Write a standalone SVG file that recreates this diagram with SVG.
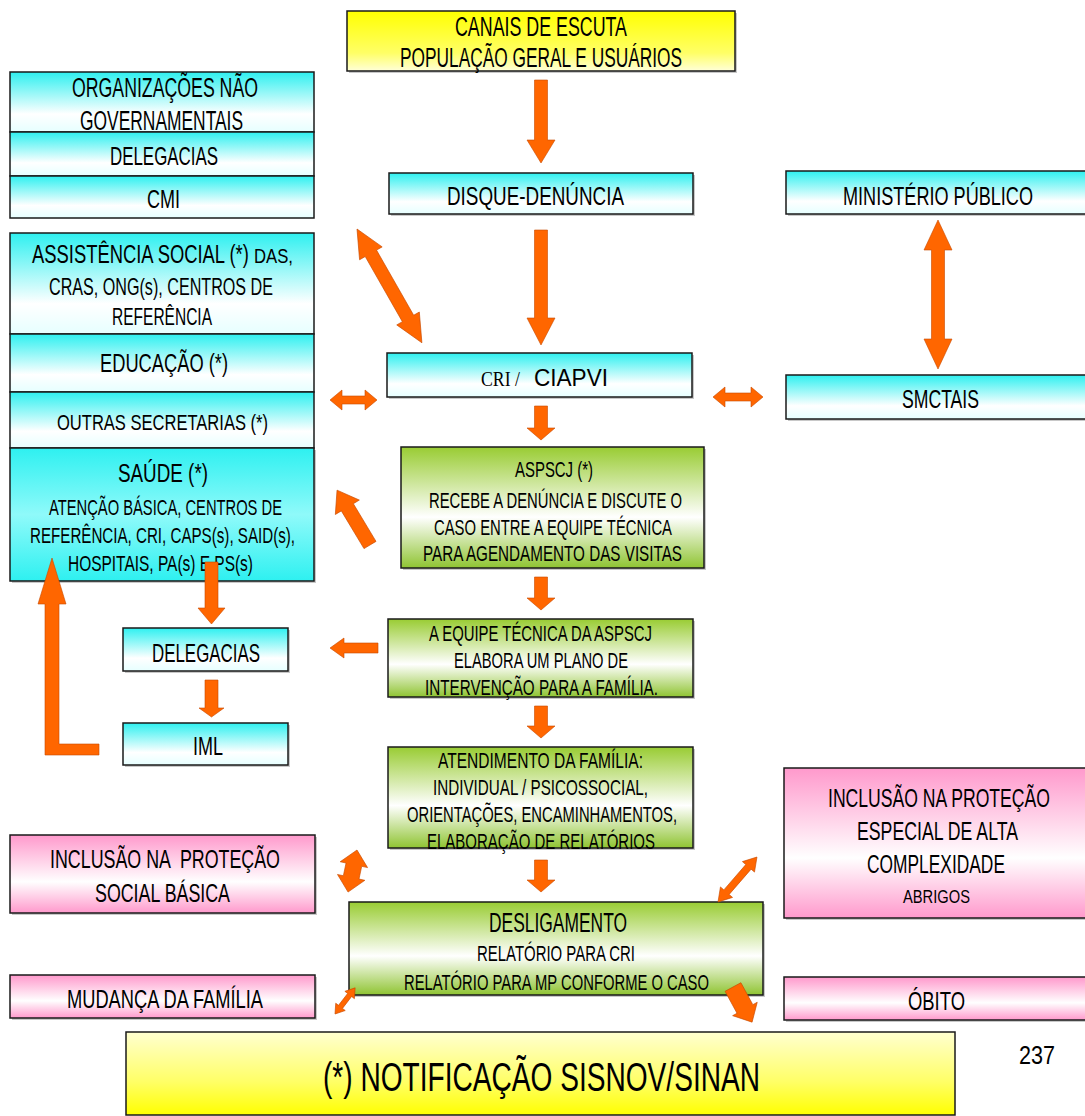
<svg xmlns="http://www.w3.org/2000/svg" width="1085" height="1116" viewBox="0 0 1085 1116">
  <defs>
    <linearGradient id="gYellowTop" x1="0" y1="0" x2="0" y2="1">
      <stop offset="0" stop-color="#ffff00"/>
      <stop offset="0.7" stop-color="#ffff66"/>
      <stop offset="1" stop-color="#ffffd8"/>
    </linearGradient>
    <linearGradient id="gYellowBottom" x1="0" y1="0" x2="0" y2="1">
      <stop offset="0" stop-color="#ffffd0"/>
      <stop offset="0.6" stop-color="#ffff66"/>
      <stop offset="1" stop-color="#ffff00"/>
    </linearGradient>
    <linearGradient id="gCyan" x1="0" y1="0" x2="0" y2="1">
      <stop offset="0" stop-color="#2ef0f0"/>
      <stop offset="0.7" stop-color="#ffffff"/>
      <stop offset="1" stop-color="#e6ffff"/>
    </linearGradient>
    <linearGradient id="gCyanFull" x1="0" y1="0" x2="0" y2="1">
      <stop offset="0" stop-color="#2ef0f0"/>
      <stop offset="0.5" stop-color="#8ffafa"/>
      <stop offset="1" stop-color="#2ef0f0"/>
    </linearGradient>
    <linearGradient id="gGreen" x1="0" y1="0" x2="0" y2="1">
      <stop offset="0" stop-color="#99cc33"/>
      <stop offset="0.58" stop-color="#ffffff"/>
      <stop offset="1" stop-color="#8fc432"/>
    </linearGradient>
    <linearGradient id="gPink" x1="0" y1="0" x2="0" y2="1">
      <stop offset="0" stop-color="#ff99cc"/>
      <stop offset="0.6" stop-color="#ffffff"/>
      <stop offset="1" stop-color="#ff99cc"/>
    </linearGradient>
  </defs>
  <style>
    .box { stroke: #1a1a1a; stroke-width: 1.5; }
    .shadow { fill: #9a9a9a; opacity: 0.55; }
    .cy { fill: url(#gCyan); }
    .gr { fill: url(#gGreen); }
    .pk { fill: url(#gPink); }
    text { font-family: "Liberation Sans", Arial, sans-serif; fill: #000; white-space: pre; }
    .serif { font-family: "Liberation Serif", "Times New Roman", serif; }
    .arr { fill: #ff6600; stroke: #c84a00; stroke-width: 0.6; }
  </style>

  <!-- top channel box -->
  <g id="canais">
    <rect x="349" y="13" width="388" height="60" class="shadow"/>
    <rect x="347" y="11" width="388" height="60" fill="url(#gYellowTop)" class="box"/>
    <text x="455" y="36" font-size="27" textLength="172" lengthAdjust="spacingAndGlyphs">CANAIS DE ESCUTA</text>
    <text x="400" y="67" font-size="27" textLength="282" lengthAdjust="spacingAndGlyphs">POPULAÇÃO GERAL E USUÁRIOS</text>
  </g>

  <!-- left column: partner groups -->
  <g id="ong">
    <rect x="10" y="72" width="304" height="60" class="cy box"/>
    <text x="72" y="97" font-size="27" textLength="186" lengthAdjust="spacingAndGlyphs">ORGANIZAÇÕES NÃO</text>
    <text x="80" y="130" font-size="27" textLength="163" lengthAdjust="spacingAndGlyphs">GOVERNAMENTAIS</text>
  </g>
  <g id="delegacias-top">
    <rect x="10" y="132" width="304" height="44" class="cy box"/>
    <text x="110" y="165" font-size="26" textLength="108" lengthAdjust="spacingAndGlyphs">DELEGACIAS</text>
  </g>
  <g id="cmi">
    <rect x="10" y="176" width="304" height="42" class="cy box"/>
    <text x="147" y="208" font-size="26" textLength="33" lengthAdjust="spacingAndGlyphs">CMI</text>
  </g>

  <g id="assistencia">
    <rect x="10" y="233" width="304" height="101" class="cy box"/>
    <text x="32" y="263" font-size="25"><tspan textLength="222" lengthAdjust="spacingAndGlyphs">ASSISTÊNCIA SOCIAL (*) </tspan><tspan font-size="20" textLength="39" lengthAdjust="spacingAndGlyphs">DAS,</tspan></text>
    <text x="49" y="295" font-size="24" textLength="224" lengthAdjust="spacingAndGlyphs">CRAS, ONG(s), CENTROS DE</text>
    <text x="112" y="325" font-size="24" textLength="100" lengthAdjust="spacingAndGlyphs">REFERÊNCIA</text>
  </g>
  <g id="educacao">
    <rect x="10" y="334" width="304" height="58" class="cy box"/>
    <text x="100" y="372" font-size="26" textLength="128" lengthAdjust="spacingAndGlyphs">EDUCAÇÃO (*)</text>
  </g>
  <g id="outras">
    <rect x="10" y="392" width="304" height="56" class="cy box"/>
    <text x="57" y="430" font-size="22" textLength="211" lengthAdjust="spacingAndGlyphs">OUTRAS SECRETARIAS (*)</text>
  </g>
  <g id="saude">
    <rect x="12" y="450" width="304" height="133" class="shadow"/>
    <rect x="10" y="448" width="304" height="133" fill="url(#gCyanFull)" class="box"/>
    <text x="118" y="482" font-size="25" textLength="90" lengthAdjust="spacingAndGlyphs">SAÚDE (*)</text>
    <text x="49" y="515" font-size="22" textLength="233" lengthAdjust="spacingAndGlyphs">ATENÇÃO BÁSICA, CENTROS DE</text>
    <text x="30" y="543" font-size="22" textLength="265" lengthAdjust="spacingAndGlyphs">REFERÊNCIA, CRI, CAPS(s), SAID(s),</text>
    <text x="68" y="571" font-size="22" textLength="185" lengthAdjust="spacingAndGlyphs">HOSPITAIS, PA(s) E PS(s)</text>
  </g>

  <g id="delegacias">
    <rect x="125" y="630" width="165" height="43" class="shadow"/>
    <rect x="123" y="628" width="165" height="43" class="cy box"/>
    <text x="152" y="662" font-size="25" textLength="108" lengthAdjust="spacingAndGlyphs">DELEGACIAS</text>
  </g>
  <g id="iml">
    <rect x="125" y="725" width="165" height="42" class="shadow"/>
    <rect x="123" y="723" width="165" height="42" class="cy box"/>
    <text x="193" y="755" font-size="25" textLength="30" lengthAdjust="spacingAndGlyphs">IML</text>
  </g>

  <!-- central flow -->
  <g id="disque">
    <rect x="391" y="175" width="304" height="41" class="shadow"/>
    <rect x="389" y="173" width="304" height="41" class="cy box"/>
    <text x="447" y="205" font-size="25" textLength="177" lengthAdjust="spacingAndGlyphs">DISQUE-DENÚNCIA</text>
  </g>
  <g id="cri">
    <rect x="389" y="355" width="305" height="44" class="shadow"/>
    <rect x="387" y="353" width="305" height="44" class="cy box"/>
    <text x="481" y="386" font-size="22" class="serif" textLength="39" lengthAdjust="spacingAndGlyphs">CRI /</text>
    <text x="534" y="386" font-size="24" textLength="74" lengthAdjust="spacingAndGlyphs">CIAPVI</text>
  </g>
  <g id="aspscj">
    <rect x="403" y="449" width="303" height="121" class="shadow"/>
    <rect x="401" y="447" width="303" height="121" class="gr box"/>
    <text x="515" y="477" font-size="22.5" textLength="78" lengthAdjust="spacingAndGlyphs">ASPSCJ (*)</text>
    <text x="429" y="508" font-size="22.5" textLength="253" lengthAdjust="spacingAndGlyphs">RECEBE A DENÚNCIA E DISCUTE O</text>
    <text x="434" y="535" font-size="22.5" textLength="238" lengthAdjust="spacingAndGlyphs">CASO ENTRE A EQUIPE TÉCNICA</text>
    <text x="423" y="561" font-size="22.5" textLength="259" lengthAdjust="spacingAndGlyphs">PARA AGENDAMENTO DAS VISITAS</text>
  </g>
  <g id="plano">
    <rect x="390" y="621" width="305" height="78" class="shadow"/>
    <rect x="388" y="619" width="305" height="78" class="gr box"/>
    <text x="429" y="641" font-size="22.5" textLength="223" lengthAdjust="spacingAndGlyphs">A EQUIPE TÉCNICA DA ASPSCJ</text>
    <text x="454" y="668" font-size="22.5" textLength="174" lengthAdjust="spacingAndGlyphs">ELABORA UM PLANO DE</text>
    <text x="425" y="695" font-size="22.5" textLength="233" lengthAdjust="spacingAndGlyphs">INTERVENÇÃO PARA A FAMÍLIA.</text>
  </g>
  <g id="atendimento">
    <rect x="390" y="749" width="305" height="101" class="shadow"/>
    <rect x="388" y="747" width="305" height="101" class="gr box"/>
    <text x="438" y="768" font-size="22.5" textLength="205" lengthAdjust="spacingAndGlyphs">ATENDIMENTO DA FAMÍLIA:</text>
    <text x="433" y="795" font-size="22.5" textLength="215" lengthAdjust="spacingAndGlyphs">INDIVIDUAL / PSICOSSOCIAL,</text>
    <text x="407" y="822" font-size="22.5" textLength="270" lengthAdjust="spacingAndGlyphs">ORIENTAÇÕES, ENCAMINHAMENTOS,</text>
    <text x="427" y="849" font-size="22.5" textLength="228" lengthAdjust="spacingAndGlyphs">ELABORAÇÃO DE RELATÓRIOS</text>
  </g>
  <g id="desligamento">
    <rect x="351" y="904" width="414" height="93" class="shadow"/>
    <rect x="349" y="902" width="414" height="93" class="gr box"/>
    <text x="489" y="932" font-size="27" textLength="138" lengthAdjust="spacingAndGlyphs">DESLIGAMENTO</text>
    <text x="477" y="961" font-size="22.5" textLength="158" lengthAdjust="spacingAndGlyphs">RELATÓRIO PARA CRI</text>
    <text x="404" y="990" font-size="22.5" textLength="305" lengthAdjust="spacingAndGlyphs">RELATÓRIO PARA MP CONFORME O CASO</text>
  </g>

  <!-- right column -->
  <g id="ministerio">
    <rect x="788" y="173" width="304" height="43" class="shadow"/>
    <rect x="786" y="171" width="304" height="43" class="cy box"/>
    <text x="843" y="205" font-size="25" textLength="190" lengthAdjust="spacingAndGlyphs">MINISTÉRIO PÚBLICO</text>
  </g>
  <g id="smctais">
    <rect x="788" y="377" width="304" height="44" class="shadow"/>
    <rect x="786" y="375" width="304" height="44" class="cy box"/>
    <text x="902" y="408" font-size="25" textLength="77" lengthAdjust="spacingAndGlyphs">SMCTAIS</text>
  </g>
  <g id="alta-complexidade">
    <rect x="786" y="770" width="304" height="150" class="shadow"/>
    <rect x="784" y="768" width="304" height="150" class="pk box"/>
    <text x="828" y="807" font-size="25" textLength="222" lengthAdjust="spacingAndGlyphs">INCLUSÃO NA PROTEÇÃO</text>
    <text x="857" y="840" font-size="25" textLength="161" lengthAdjust="spacingAndGlyphs">ESPECIAL DE ALTA</text>
    <text x="867" y="873" font-size="25" textLength="138" lengthAdjust="spacingAndGlyphs">COMPLEXIDADE</text>
    <text x="903" y="903" font-size="19" textLength="67" lengthAdjust="spacingAndGlyphs">ABRIGOS</text>
  </g>
  <g id="obito">
    <rect x="786" y="979" width="304" height="43" class="shadow"/>
    <rect x="784" y="977" width="304" height="43" class="pk box"/>
    <text x="908" y="1010" font-size="25" textLength="57" lengthAdjust="spacingAndGlyphs">ÓBITO</text>
  </g>

  <!-- lower left outcomes -->
  <g id="protecao-basica">
    <rect x="12" y="837" width="305" height="78" class="shadow"/>
    <rect x="10" y="835" width="305" height="78" class="pk box"/>
    <text x="50" y="868" font-size="26" textLength="230" lengthAdjust="spacingAndGlyphs">INCLUSÃO NA  PROTEÇÃO</text>
    <text x="95" y="902" font-size="26" textLength="135" lengthAdjust="spacingAndGlyphs">SOCIAL BÁSICA</text>
  </g>
  <g id="mudanca">
    <rect x="12" y="977" width="305" height="43" class="shadow"/>
    <rect x="10" y="975" width="305" height="43" class="pk box"/>
    <text x="67" y="1008" font-size="26" textLength="196" lengthAdjust="spacingAndGlyphs">MUDANÇA DA FAMÍLIA</text>
  </g>

  <!-- footer note -->
  <g id="notificacao">
    <rect x="126" y="1032" width="829" height="83" fill="url(#gYellowBottom)" class="box"/>
    <text x="323" y="1091" font-size="40" textLength="437" lengthAdjust="spacingAndGlyphs">(*) NOTIFICAÇÃO SISNOV/SINAN</text>
  </g>
  <text id="pagina" x="1019" y="1064" font-size="25" textLength="36" lengthAdjust="spacingAndGlyphs">237</text>

  <!-- connectors -->
  <g id="connectors">
    <!-- main vertical flow -->
    <polygon class="arr" points="534.5,80 547.5,80 547.5,140 555,140 541,163 527,140 534.5,140"/>
    <polygon class="arr" points="534.5,230 547.5,230 547.5,318 555,318 541,345 527,318 534.5,318"/>
    <polygon class="arr" points="534.5,406 547.5,406 547.5,428 555,428 541,440 527,428 534.5,428"/>
    <polygon class="arr" points="534.5,577 547.5,577 547.5,598 555,598 541,610 527,598 534.5,598"/>
    <polygon class="arr" points="534.5,706 547.5,706 547.5,726 555,726 541,738 527,726 534.5,726"/>
    <polygon class="arr" points="534.5,860 547.5,860 547.5,880 555,880 541,892 527,880 534.5,880"/>

    <!-- left branch: saude, delegacias, iml, return -->
    <polygon class="arr" points="205,562 218,562 218,608 225,608 211.5,624 198,608 205,608"/>
    <polygon class="arr" points="205,680 218,680 218,708 224,708 211.5,717 199,708 205,708"/>
    <path class="arr" d="M52,558 L66,604 L59,604 L59,744 L99,744 L99,755 L45,755 L45,604 L38,604 Z"/>

    <!-- two-way links around CRI -->
    <path class="arr" d="M0,0 L28,-13 L28,-6.5 L103,-6.5 L103,-13 L131,0 L103,13 L103,6.5 L28,6.5 L28,13 Z" transform="translate(357,229) rotate(60.3)"/>
    <path class="arr" d="M330,400 L342,390 L342,396 L365,396 L365,390 L377,400 L365,410 L365,404 L342,404 L342,410 Z"/>
    <path class="arr" d="M713,397 L725,387 L725,393 L751,393 L751,387 L763,397 L751,407 L751,401 L725,401 L725,407 Z"/>
    <path class="arr" d="M938,220 L952,250 L944.5,250 L944.5,339 L952,339 L938,369 L924,339 L931.5,339 L931.5,250 L924,250 Z"/>

    <!-- referrals to the left -->
    <path class="arr" d="M0,-7 L44,-7 L44,-14 L64,0 L44,14 L44,7 L0,7 Z" transform="translate(370,545) rotate(-121)"/>
    <path class="arr" d="M378,643 L344,643 L344,638 L330,648 L344,658 L344,653 L378,653 Z"/>

    <!-- outcomes of desligamento -->
    <path class="arr" d="M0,0 L15,-14 L15,-8 L28,-8 L28,-14 L43,0 L28,14 L28,8 L15,8 L15,14 Z" transform="translate(357,850) rotate(102)"/>
    <path class="arr" d="M0,0 L9,-6 L9,-2.5 L24,-2.5 L24,-6 L33,0 L24,6 L24,2.5 L9,2.5 L9,6 Z" transform="translate(335,1014) rotate(-52.4)"/>
    <path class="arr" d="M0,0 L13,-8 L13,-3.5 L46.5,-3.5 L46.5,-8 L59.5,0 L46.5,8 L46.5,3.5 L13,3.5 L13,8 Z" transform="translate(718,902) rotate(-49.1)"/>
    <path class="arr" d="M0,-9 L25,-9 L25,-14 L40,0 L25,14 L25,9 L0,9 Z" transform="translate(733,987) rotate(61.5)"/>
  </g>
</svg>
